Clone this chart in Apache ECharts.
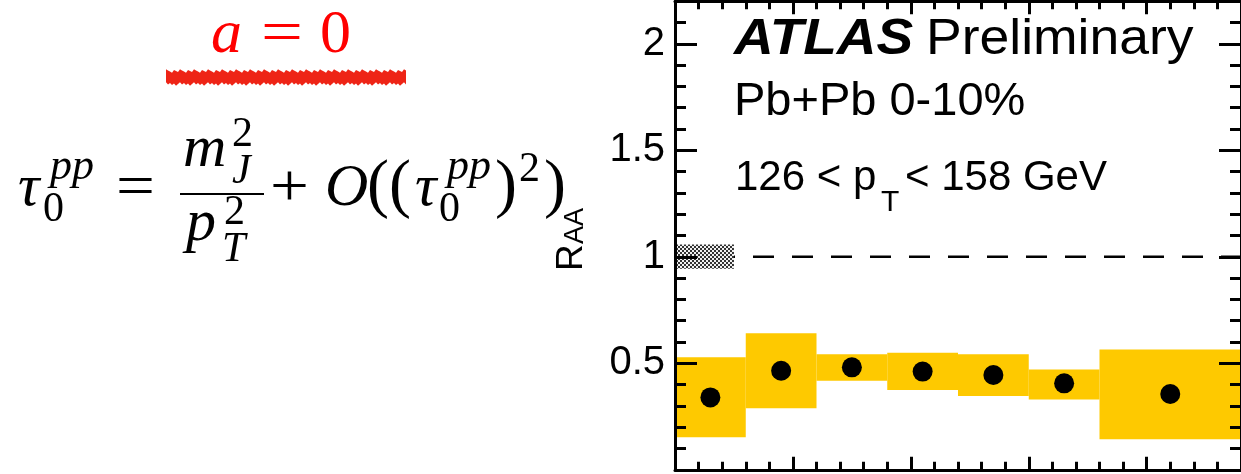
<!DOCTYPE html>
<html><head><meta charset="utf-8">
<script src="https://cdn.jsdelivr.net/npm/echarts@6/dist/echarts.min.js"></script>
<style>html,body{margin:0;padding:0;background:#fff}#c{width:1241px;height:474px}</style>
</head><body><div id="c"></div>
<script>
// ---- data ----
const binEdges   = [0, 0.03, 0.06, 0.09, 0.12, 0.15, 0.18, 0.24];
const raaValues  = [0.340, 0.465, 0.481, 0.461, 0.445, 0.406, 0.356];
const sysLow     = [0.153, 0.289, 0.418, 0.375, 0.346, 0.330, 0.143];
const sysHigh    = [0.528, 0.641, 0.542, 0.550, 0.542, 0.471, 0.565];
const normBoxX   = [0, 0.025];
const normBoxY   = [0.944, 1.058];
const refLineX   = [0, 0.24];
const refLineY   = [1, 1];
const yTickValues = [0.5, 1, 1.5, 2];
const yTickLabels = ['0.5', '1', '1.5', '2'];

// ---- build series data ----
const boxData = [], pointData = [];
for (let i = 0; i < raaValues.length; i++) {
  boxData.push([binEdges[i], binEdges[i + 1], sysLow[i], sysHigh[i]]);
  pointData.push([(binEdges[i] + binEdges[i + 1]) / 2, raaValues[i]]);
}

const pc = document.createElement('canvas');
pc.width = 4; pc.height = 4;
const g = pc.getContext('2d');
g.fillStyle = '#f0f0f0'; g.fillRect(0, 0, 4, 4);
g.fillStyle = '#333'; g.fillRect(0, 0, 2, 2); g.fillRect(2, 2, 2, 2);

const K = 0.34;
function T(text, x, base, size, o) {
  o = o || {};
  return {
    type: 'text', x: x, y: base - size * K * (o.sy || 1), z: 100,
    scaleX: o.sx || 1, scaleY: o.sy || 1,
    style: {
      text: text,
      font: (o.italic ? 'italic ' : '') + (o.bold ? 'bold ' : '') + size + 'px ' + (o.family || '"Liberation Sans"'),
      fill: o.color || '#000', verticalAlign: 'middle', align: 'left'
    }
  };
}
const SERIF = '"Liberation Serif"';
function M(text, x, base, size, it, sx) { return T(text, x, base, size, {family: SERIF, italic: it, sx: sx}); }

// rough brush-stroke underline outline (decoration)
const brush = [];
for (let i = 0; i <= 120; i++) brush.push([166 + i * 2, 71 + (((i * 37) % 7) - 3) * 0.55]);
for (let i = 120; i >= 0; i--) brush.push([166 + i * 2, 84 + (((i * 53) % 7) - 3) * 0.55]);

const graphics = [
  // red "a = 0"
  T('a', 211, 57, 62, {family: SERIF, italic: true, color: '#ff0000'}),
  T('=', 261, 57, 62, {family: SERIF, color: '#ff0000', sx: 1.2}),
  T('0', 320, 57, 62, {family: SERIF, color: '#ff0000'}),
  {type: 'polygon', z: 99, shape: {points: brush}, style: {fill: '#ee2416'}},
  // formula
  M('\u03c4', 18, 210, 60, true),
  M('pp', 50, 182, 44, true),
  M('0', 43, 224, 42, false),
  M('=', 116, 210, 60, false, 1.15),
  M('m', 183, 171, 60, true),
  M('2', 232, 149, 42, false),
  M('J', 232, 186, 42, true),
  {type: 'line', z: 100, shape: {x1: 180, y1: 194, x2: 264, y2: 194}, style: {stroke: '#000', lineWidth: 2}},
  M('p', 186, 245, 60, true),
  M('2', 224, 227, 42, false),
  M('T', 222, 264, 42, true),
  M('+', 270, 210, 60, false, 1.15),
  M('O', 325, 210, 60, true),
  M('(', 367, 210, 66, false),
  M('(', 389, 210, 66, false),
  M('\u03c4', 415, 210, 60, true),
  M('pp', 447, 182, 44, true),
  M('0', 439, 224, 42, false),
  M(')', 495, 210, 66, false),
  M('2', 519, 184, 42, false),
  M(')', 544, 210, 66, false),
  // y axis title R_AA (rotated)
  {type: 'group', x: 584, y: 271, rotation: Math.PI / 2, z: 100, children: [
    T('R', 0, 0, 37), T('AA', 27, 1, 27)
  ]},
  // ATLAS labels
  T('ATLAS', 734, 57, 50, {bold: true, italic: true, sx: 1.1}),
  T('Preliminary', 926, 57, 50, {sx: 1.07}),
  T('Pb+Pb 0-10%', 734, 118, 47),
  T('126 < p', 735, 193, 42),
  T('T', 881, 213, 30),
  T('< 158 GeV', 905, 193, 42)
];

const axBase = {type: 'value', gridIndex: 0, z: 5, splitLine: {show: false}, axisLabel: {show: false}};
function xa(pos, interval, len, line) {
  return Object.assign({}, axBase, {position: pos, min: 0, max: 0.24, interval: interval,
    axisLine: {show: line, onZero: false, lineStyle: {color: '#000', width: 3}},
    axisTick: {show: true, inside: true, length: len, lineStyle: {color: '#000', width: 3}}});
}
function ya(pos, interval, len, line, labels) {
  const a = Object.assign({}, axBase, {position: pos, min: 0, max: 2.2, interval: interval,
    axisLine: {show: line, onZero: false, lineStyle: {color: '#000', width: 3}},
    axisTick: {show: true, inside: true, length: len, lineStyle: {color: '#000', width: 3}}});
  if (labels) {
    a.axisLabel = {show: true, margin: 10, color: '#000', fontSize: 40, fontFamily: 'Liberation Sans',
      formatter: function (v) {
        for (let i = 0; i < yTickValues.length; i++) if (Math.abs(v - yTickValues[i]) < 1e-6) return yTickLabels[i];
        return '';
      }};
  }
  return a;
}

const chart = echarts.init(document.getElementById('c'), null, {renderer: 'canvas'});
chart.setOption({
  animation: false,
  backgroundColor: '#fff',
  grid: {left: 675, top: 1.2, width: 567.6, height: 468.6, containLabel: false},
  xAxis: [xa('bottom', 0.01, 8, true), xa('bottom', 0.05, 13, false), xa('top', 0.01, 8, true), xa('top', 0.05, 13, false)],
  yAxis: [ya('left', 0.1, 11, true, false), ya('left', 0.5, 22, false, true), ya('right', 0.1, 11, true, false), ya('right', 0.5, 22, false, false)],
  graphic: graphics,
  series: [
    {type: 'line', xAxisIndex: 0, yAxisIndex: 0, data: refLineX.map((x, i) => [x, refLineY[i]]), symbol: 'none', silent: true, z: 1,
      lineStyle: {color: '#000', width: 2.5, type: [21, 18]}},
    {type: 'custom', xAxisIndex: 0, yAxisIndex: 0, z: 2, silent: true, data: [[normBoxX[0], normBoxX[1], normBoxY[0], normBoxY[1]]],
      renderItem: function (params, api) {
        const p0 = api.coord([api.value(0), api.value(3)]);
        const p1 = api.coord([api.value(1), api.value(2)]);
        return {type: 'rect', shape: {x: p0[0], y: p0[1], width: p1[0] - p0[0], height: p1[1] - p0[1]},
          style: {fill: {image: pc, repeat: 'repeat'}}};
      }},
    {type: 'custom', xAxisIndex: 0, yAxisIndex: 0, z: 2, silent: true, data: boxData,
      renderItem: function (params, api) {
        const p0 = api.coord([api.value(0), api.value(3)]);
        const p1 = api.coord([api.value(1), api.value(2)]);
        return {type: 'rect', shape: {x: p0[0], y: p0[1], width: p1[0] - p0[0], height: p1[1] - p0[1]},
          style: {fill: '#fec900'}};
      }},
    {type: 'scatter', xAxisIndex: 0, yAxisIndex: 0, z: 3, silent: true, data: pointData, symbol: 'circle', symbolSize: 20,
      itemStyle: {color: '#000', opacity: 1}}
  ]
});
</script></body></html>
